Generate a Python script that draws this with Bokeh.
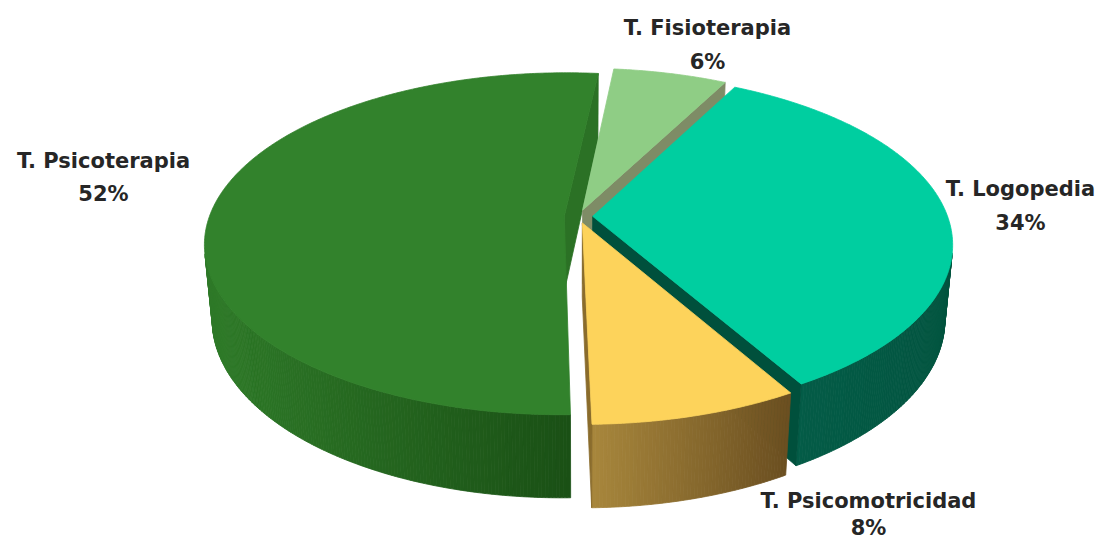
import math
from bokeh.plotting import figure
from bokeh.models import Range1d
from bokeh.core.properties import value
from bokeh.embed import file_html
from bokeh.resources import INLINE

# ---------------- data (clockwise from the top) ----------------
categories = ["T. Fisioterapia", "T. Logopedia", "T. Psicomotricidad", "T. Psicoterapia"]
percents = [6, 34, 8, 52]
pct_labels = ["6%", "34%", "8%", "52%"]

# ---------------- styles ----------------
top_colors = ["#8FCD85", "#00CEA0", "#FDD35B", "#32822C"]
wall_left = ["#7D9C6F", "#045C47", "#A8873C", "#2E7A28"]
wall_right = ["#6A8A5E", "#02543F", "#6A4E20", "#1A5015"]
face_colors = ["#7E8C66", "#00503C", "#8A6C2C", "#2B7125"]
draw_order = [3, 0, 1, 2]

label_x = [707, 1020, 868, 103]
label_y = [27, 188, 500, 160]
pct_y = [61, 222, 527, 193]

# ---------------- camera / geometry ----------------
START = 84.0            # angle (deg, ccw from +x) where the first slice starts, going clockwise
ELEV = math.radians(28)
DIST = 5.48
FOCAL = 1945.0
DEPTH = 0.241
EXPLODE = 0.04
OX, OY = 578.0, 216.0
CE, SE = math.cos(ELEV), math.sin(ELEV)


def project(X, Y, Z):
    depth = DIST + Y * CE - Z * SE
    up = Y * SE + Z * CE
    return OX + FOCAL * X / depth, OY - FOCAL * up / depth


def lerp_color(c1, c2, t):
    a = [int(c1[i:i + 2], 16) for i in (1, 3, 5)]
    b = [int(c2[i:i + 2], 16) for i in (1, 3, 5)]
    return "#%02x%02x%02x" % tuple(int(round(a[k] + (b[k] - a[k]) * t)) for k in range(3))


p = figure(width=1101, height=542, x_range=Range1d(0, 1101), y_range=Range1d(542, 0),
           output_backend="svg", toolbar_location=None, min_border=0)
p.axis.visible = False
p.grid.visible = False
p.outline_line_color = None
p.background_fill_color = "white"

total = float(sum(percents))
slices = []
ang = START
for i, v in enumerate(percents):
    span = 360.0 * v / total
    hi = ang
    lo = ang - span
    slices.append((lo, hi))
    ang = lo

for i in draw_order:
    lo, hi = slices[i]
    mid = math.radians((lo + hi) / 2.0)
    ox, oy = EXPLODE * math.cos(mid), EXPLODE * math.sin(mid)

    # ---- outer wall (visible strips) ----
    n = max(int(abs(hi - lo)), 2) * 2
    thetas = [math.radians(lo + (hi - lo) * k / n) for k in range(n + 1)]
    strips = []
    for k in range(n):
        t0, t1 = thetas[k], thetas[k + 1]
        tm = (t0 + t1) / 2
        dot = -1 - ox * math.cos(tm) - (DIST * CE + oy) * math.sin(tm)
        if dot <= 0:
            continue
        pts = [project(ox + math.cos(t0), oy + math.sin(t0), 0),
               project(ox + math.cos(t1), oy + math.sin(t1), 0),
               project(ox + math.cos(t1), oy + math.sin(t1), -DEPTH),
               project(ox + math.cos(t0), oy + math.sin(t0), -DEPTH)]
        strips.append(pts)
    if strips:
        xs_all = [pt[0] for s in strips for pt in s]
        xmin, xmax = min(xs_all), max(xs_all)
        sx, sy, cols = [], [], []
        for s in strips:
            cx = sum(pt[0] for pt in s) / 4
            t = (cx - xmin) / max(xmax - xmin, 1)
            sx.append([pt[0] for pt in s])
            sy.append([pt[1] for pt in s])
            cols.append(lerp_color(wall_left[i], wall_right[i], t))
        p.patches(sx, sy, fill_color=cols, line_color=cols, line_width=0.8)

    # ---- cut faces ----
    for a, sign in ((lo, 1), (hi, -1)):
        ar = math.radians(a)
        dot = sign * (-ox * math.sin(ar) + (DIST * CE + oy) * math.cos(ar))
        if dot <= 0:
            continue
        q = [project(ox, oy, 0), project(ox + math.cos(ar), oy + math.sin(ar), 0),
             project(ox + math.cos(ar), oy + math.sin(ar), -DEPTH), project(ox, oy, -DEPTH)]
        p.patch([pt[0] for pt in q], [pt[1] for pt in q], fill_color=face_colors[i],
                line_color=face_colors[i], line_width=0.8)

    # ---- top face ----
    m = max(int(abs(hi - lo)), 2) * 2
    top = [project(ox, oy, 0)]
    for k in range(m + 1):
        t = math.radians(lo + (hi - lo) * k / m)
        top.append(project(ox + math.cos(t), oy + math.sin(t), 0))
    p.patch([pt[0] for pt in top], [pt[1] for pt in top], fill_color=top_colors[i],
            line_color=top_colors[i], line_width=0.8)

# ---- labels ----
p.text(x=label_x, y=label_y, text=categories, text_align="center", text_baseline="middle",
       text_font=value("DejaVu Sans"), text_font_style="bold", text_font_size="21px",
       text_color="#262626")
p.text(x=label_x, y=pct_y, text=pct_labels, text_align="center",
       text_baseline="middle", text_font=value("DejaVu Sans"), text_font_style="bold",
       text_font_size="21px", text_color="#262626")

open("out.html", "w").write(file_html(p, INLINE))
